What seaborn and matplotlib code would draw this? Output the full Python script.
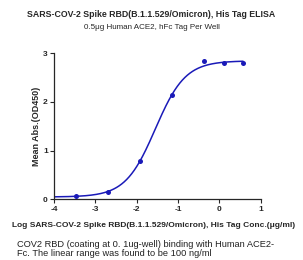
import numpy as np
import pandas as pd
import matplotlib
matplotlib.use("Agg")
import matplotlib.pyplot as plt
import seaborn as sns

# log10 concentration (ug/ml) and mean OD450
log_conc = [-3.47, -2.69, -1.92, -1.14, -0.37, 0.11, 0.57]
mean_abs = [0.06, 0.16, 0.79, 2.13, 2.83, 2.80, 2.79]

# 4PL fit parameters (estimated from the drawn curve)
bottom, top, log_ec50, hill = 0.05, 2.84, -1.55, 1.2

TITLE = "SARS-COV-2 Spike RBD(B.1.1.529/Omicron), His Tag ELISA"
SUBTITLE = "0.5\u03bcg Human ACE2, hFc Tag Per Well"
XLABEL = "Log SARS-COV-2 Spike RBD(B.1.1.529/Omicron), His Tag Conc.(\u03bcg/ml)"
YLABEL = "Mean Abs.(OD450)"
CAPTION_1 = "COV2 RBD (coating at 0. 1ug-well) binding with Human ACE2-"
CAPTION_2 = "Fc. The linear range was found to be 100 ng/ml"

sns.set_style("ticks")
plt.rcParams["font.family"] = ["Liberation Sans", "DejaVu Sans"]

BLUE = "#1a1ab8"

df = pd.DataFrame({"x": log_conc, "y": mean_abs})
xs = np.linspace(-4, max(log_conc), 300)
fit = pd.DataFrame({"x": xs, "y": bottom + (top - bottom) / (1 + 10 ** ((log_ec50 - xs) * hill))})

fig = plt.figure(figsize=(3.03, 2.60), dpi=100)
ax = fig.add_axes([0.178, 0.233, 0.683, 0.563])

sns.lineplot(data=fit, x="x", y="y", ax=ax, color=BLUE, linewidth=1.1)
sns.scatterplot(data=df, x="x", y="y", ax=ax, color=BLUE, s=13, edgecolor=BLUE, linewidth=0, zorder=3)

ax.set_xlim(-4, 1)
ax.set_ylim(0, 3)
ax.set_xticks([-4, -3, -2, -1, 0, 1])
ax.set_yticks([0, 1, 2, 3])
ax.set_xticklabels(["-4", "-3", "-2", "-1", "0", "1"])
ax.tick_params(axis="both", labelsize=6, length=3, width=0.8, pad=1.5)
for lab in ax.get_xticklabels() + ax.get_yticklabels():
    lab.set_fontweight("bold")
for s in ["left", "bottom"]:
    ax.spines[s].set_linewidth(0.9)
sns.despine(ax=ax)

ax.set_xlabel("")
ax.set_ylabel(YLABEL, fontsize=6.5, fontweight="bold", labelpad=1.5)
fig.text(0.508, 0.133, XLABEL, ha="center", va="center", fontsize=6.0, fontweight="bold")

fig.text(0.5, 0.946, TITLE, ha="center", va="center", fontsize=6.3, fontweight="bold")
fig.text(0.5, 0.896, SUBTITLE, ha="center", va="center", fontsize=5.8)
fig.text(0.056, 0.061, CAPTION_1, ha="left", va="center", fontsize=6.7, color="#222222")
fig.text(0.056, 0.024, CAPTION_2, ha="left", va="center", fontsize=6.7, color="#222222")

fig.savefig("out.png", dpi=100)
